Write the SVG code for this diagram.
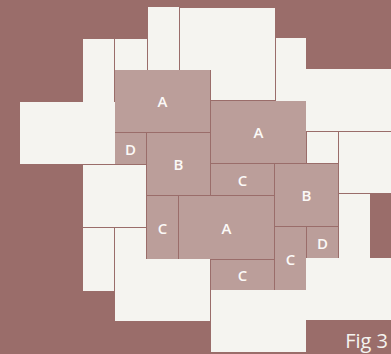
<svg xmlns="http://www.w3.org/2000/svg" width="391" height="354" viewBox="0 0 391 354">
<style>
.bg{fill:#9a6d6a}
.lt{fill:#f5f4f0}
.md{fill:#bb9e9a}
.lb{font-family:"Open Sans","Liberation Sans",sans-serif;font-weight:600;font-size:15px;fill:#fbf9f7;text-anchor:middle}
.fig{font-family:"Open Sans","Liberation Sans",sans-serif;font-size:20px;fill:#f5f4f0;text-anchor:end}
</style>
<rect class="bg" x="0" y="0" width="391" height="354"/>
<g id="light">
<rect class="lt" x="148" y="7" width="31" height="63"/>
<polygon class="lt" points="180,8 275,8 275,100 211,100 211,70 180,70"/>
<polygon class="lt" points="83,39 114,39 114,102 115,102 115,164 20,164 20,102 83,102"/>
<rect class="lt" x="115" y="39" width="32" height="31"/>
<rect class="lt" x="83" y="165" width="63" height="62"/>
<rect class="lt" x="83" y="228" width="31" height="63"/>
<polygon class="lt" points="115,228 146,228 146,259 210,259 210,321 115,321"/>
<polygon class="lt" points="339,194 370,194 370,258 391,258 391,320 306,320 306,352 211,352 211,290 306,290 306,258 339,258"/>
<rect class="lt" x="339" y="132" width="52" height="61"/>
<rect class="lt" x="307" y="132" width="31" height="31"/>
<polygon class="lt" points="276,38 306,38 306,69 391,69 391,131 306,131 306,101 276,101"/>
</g>
<g id="tile-A1"><rect class="md" x="115" y="70" width="95" height="62"/><text class="lb" x="162.5" y="107">A</text></g>
<g id="tile-D1"><rect class="md" x="115" y="133" width="31" height="31"/><text class="lb" x="130.5" y="154.5">D</text></g>
<g id="tile-B1"><rect class="md" x="147" y="133" width="63" height="62"/><text class="lb" x="178.5" y="170">B</text></g>
<g id="tile-A2"><rect class="md" x="211" y="101" width="95" height="62"/><text class="lb" x="258.5" y="138">A</text></g>
<g id="tile-C1"><rect class="md" x="211" y="164" width="63" height="31"/><text class="lb" x="242.5" y="185.5">C</text></g>
<g id="tile-B2"><rect class="md" x="275" y="164" width="63" height="62"/><text class="lb" x="306.5" y="201">B</text></g>
<g id="tile-C2"><rect class="md" x="147" y="196" width="31" height="63"/><text class="lb" x="162.5" y="233.5">C</text></g>
<g id="tile-A3"><rect class="md" x="179" y="196" width="95" height="63"/><text class="lb" x="226.5" y="233.5">A</text></g>
<g id="tile-C3"><rect class="md" x="211" y="260" width="63" height="30"/><text class="lb" x="242.5" y="281">C</text></g>
<g id="tile-C4"><rect class="md" x="275" y="227" width="31" height="63"/><text class="lb" x="290.5" y="264.5">C</text></g>
<g id="tile-D2"><rect class="md" x="307" y="227" width="31" height="31"/><text class="lb" x="322.5" y="248.5">D</text></g>
<g id="connectors"></g>
<text class="fig" x="388" y="348">Fig 3</text>
</svg>
